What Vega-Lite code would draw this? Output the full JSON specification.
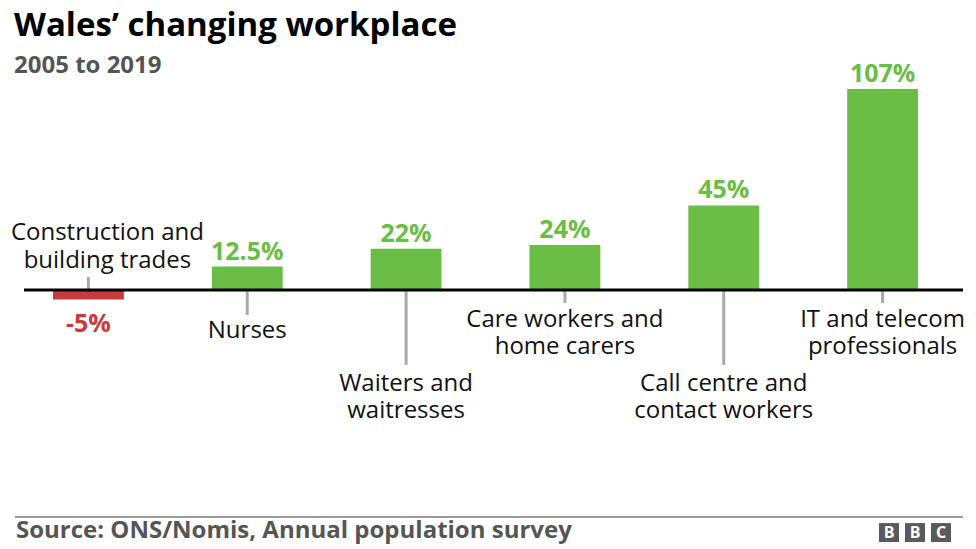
{
  "$schema": "https://vega.github.io/schema/vega-lite/v6.json",
  "width": 976,
  "height": 469,
  "autosize": {"type": "none"},
  "padding": {"left": 0, "top": 80, "right": 0, "bottom": 0},
  "background": "white",
  "title": {
    "text": "Wales’ changing workplace",
    "subtitle": "2005 to 2019",
    "anchor": "start",
    "frame": "group",
    "dx": 14,
    "offset": -16,
    "font": "Open Sans",
    "fontSize": 33,
    "fontWeight": "bold",
    "color": "#000000",
    "subtitleFont": "Open Sans",
    "subtitleFontSize": 24,
    "subtitleFontWeight": "bold",
    "subtitleColor": "#555555",
    "subtitlePadding": 11
  },
  "config": {"view": {"stroke": null}, "text": {"font": "Open Sans", "lineBreak": "\n"}},
  "data": {
    "values": [
      {"occupation": "Construction and\nbuilding trades", "change": -5, "pct": "-5%"},
      {"occupation": "Nurses", "change": 12.5, "pct": "12.5%"},
      {"occupation": "Waiters and\nwaitresses", "change": 22, "pct": "22%"},
      {"occupation": "Care workers and\nhome carers", "change": 24, "pct": "24%"},
      {"occupation": "Call centre and\ncontact workers", "change": 45, "pct": "45%"},
      {"occupation": "IT and telecom\nprofessionals", "change": 107, "pct": "107%"}
    ]
  },
  "encoding": {
    "x": {"field": "occupation", "type": "nominal", "sort": null, "scale": {"range": [53, 918], "paddingInner": 0.554, "paddingOuter": 0}, "axis": null}
  },
  "layer": [
    {
      "mark": {"type": "bar"},
      "encoding": {
        "y": {"field": "change", "type": "quantitative", "scale": {"domain": [-137.9, 111.8], "nice": false, "zero": false}, "axis": null},
        "color": {"condition": {"test": "datum.change < 0", "value": "#c83a3c"}, "value": "#6abd45"}
      }
    },
    {
      "transform": [{"filter": "datum.change >= 0"}],
      "mark": {"type": "text", "fontSize": 25, "fontWeight": "bold", "color": "#6abd45", "baseline": "alphabetic", "dy": -7},
      "encoding": {"y": {"field": "change", "type": "quantitative"}, "text": {"field": "pct"}}
    },
    {
      "transform": [{"filter": "datum.change < 0"}],
      "mark": {"type": "text", "fontSize": 25, "fontWeight": "bold", "color": "#c83a3c", "baseline": "top", "dy": 13},
      "encoding": {"y": {"field": "change", "type": "quantitative"}, "text": {"field": "pct"}}
    },
    {
      "transform": [{"filter": "datum.change < 0"}],
      "mark": {"type": "rule", "color": "#aaaaaa", "strokeWidth": 3},
      "encoding": {"y": {"datum": 0}, "y2": {"datum": 6.9}}
    },
    {
      "transform": [{"filter": "datum.change < 0"}],
      "mark": {"type": "text", "fontSize": 24, "color": "#111111", "baseline": "top", "lineHeight": 28, "dx": 19},
      "encoding": {"y": {"datum": 36.5}, "text": {"field": "occupation"}}
    },
    {
      "transform": [{"filter": {"field": "occupation", "oneOf": ["Care workers and\nhome carers", "IT and telecom\nprofessionals"]}}],
      "mark": {"type": "rule", "color": "#aaaaaa", "strokeWidth": 3},
      "encoding": {"y": {"datum": 0}, "y2": {"datum": -6.9}}
    },
    {
      "transform": [{"filter": {"field": "occupation", "oneOf": ["Care workers and\nhome carers", "IT and telecom\nprofessionals"]}}],
      "mark": {"type": "text", "fontSize": 24, "color": "#111111", "baseline": "top", "lineHeight": 27.5},
      "encoding": {"y": {"datum": -9.5}, "text": {"field": "occupation"}}
    },
    {
      "transform": [{"filter": {"field": "occupation", "oneOf": ["Nurses"]}}],
      "mark": {"type": "rule", "color": "#aaaaaa", "strokeWidth": 3},
      "encoding": {"y": {"datum": 0}, "y2": {"datum": -13.3}}
    },
    {
      "transform": [{"filter": {"field": "occupation", "oneOf": ["Nurses"]}}],
      "mark": {"type": "text", "fontSize": 24, "color": "#111111", "baseline": "top", "lineHeight": 27.5},
      "encoding": {"y": {"datum": -15.5}, "text": {"field": "occupation"}}
    },
    {
      "transform": [{"filter": {"field": "occupation", "oneOf": ["Waiters and\nwaitresses", "Call centre and\ncontact workers"]}}],
      "mark": {"type": "rule", "color": "#aaaaaa", "strokeWidth": 3},
      "encoding": {"y": {"datum": 0}, "y2": {"datum": -39.9}}
    },
    {
      "transform": [{"filter": {"field": "occupation", "oneOf": ["Waiters and\nwaitresses", "Call centre and\ncontact workers"]}}],
      "mark": {"type": "text", "fontSize": 24, "color": "#111111", "baseline": "top", "lineHeight": 27.5},
      "encoding": {"y": {"datum": -43.5}, "text": {"field": "occupation"}}
    },
    {
      "data": {"values": [{}]},
      "mark": {"type": "rule", "color": "#000000", "strokeWidth": 3},
      "encoding": {"x": {"value": 24}, "x2": {"value": 963}, "y": {"datum": 0}}
    },
    {
      "data": {"values": [{}]},
      "mark": {"type": "rule", "color": "#999999", "strokeWidth": 2},
      "encoding": {"x": {"value": 15}, "x2": {"value": 963}, "y": {"datum": -120.9}}
    },
    {
      "data": {"values": [{}]},
      "mark": {"type": "text", "fontSize": 24, "fontWeight": "bold", "color": "#555555", "align": "left", "baseline": "alphabetic", "text": "Source: ONS/Nomis, Annual population survey"},
      "encoding": {"x": {"value": 16}, "y": {"datum": -132.1}}
    },
    {
      "data": {"values": [{}]},
      "mark": {"type": "rect", "color": "#5a5a5a"},
      "encoding": {"x": {"value": 879}, "x2": {"value": 899}, "y": {"datum": -124.1}, "y2": {"datum": -134.2}}
    },
    {
      "data": {"values": [{}]},
      "mark": {"type": "rect", "color": "#5a5a5a"},
      "encoding": {"x": {"value": 905}, "x2": {"value": 925}, "y": {"datum": -124.1}, "y2": {"datum": -134.2}}
    },
    {
      "data": {"values": [{}]},
      "mark": {"type": "rect", "color": "#5a5a5a"},
      "encoding": {"x": {"value": 931}, "x2": {"value": 951}, "y": {"datum": -124.1}, "y2": {"datum": -134.2}}
    },
    {
      "data": {"values": [{}]},
      "mark": {"type": "text", "fontSize": 16, "fontWeight": "bold", "color": "#ffffff", "baseline": "middle", "align": "center", "text": "B"},
      "encoding": {"x": {"value": 889}, "y": {"datum": -129.2}}
    },
    {
      "data": {"values": [{}]},
      "mark": {"type": "text", "fontSize": 16, "fontWeight": "bold", "color": "#ffffff", "baseline": "middle", "align": "center", "text": "B"},
      "encoding": {"x": {"value": 915}, "y": {"datum": -129.2}}
    },
    {
      "data": {"values": [{}]},
      "mark": {"type": "text", "fontSize": 16, "fontWeight": "bold", "color": "#ffffff", "baseline": "middle", "align": "center", "text": "C"},
      "encoding": {"x": {"value": 941}, "y": {"datum": -129.2}}
    }
  ]
}
